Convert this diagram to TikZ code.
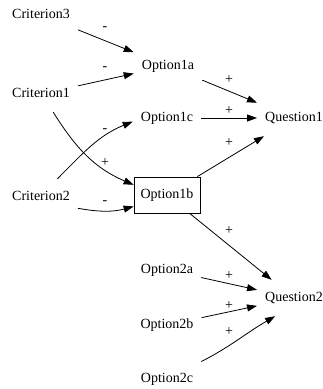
\documentclass[tikz,border=0pt]{standalone}
\usepackage{fontspec}
\setmainfont{Liberation Serif}
\usepackage{tikz}
\usetikzlibrary{arrows.meta}

\begin{document}
\begin{tikzpicture}[x=1pt, y=1pt,
  font=\fontsize{14pt}{16pt}\selectfont,
  item/.style={inner xsep=8pt, inner ysep=0pt, minimum height=36pt, text height=10pt, text depth=3pt},
  boxed/.style={item, draw, line width=0.8pt, inner xsep=6.5pt},
  sign/.style={inner sep=0pt},
  link/.style={line width=0.8pt, -{Triangle[length=10pt,width=7pt]}}]
\useasboundingbox (0,0) rectangle (323,-389);
% criteria
\node [item] (Criterion3) at (41,-15) {Criterion3};
\node [item] (Criterion1) at (41,-94) {Criterion1};
\node [item] (Criterion2) at (41,-197) {Criterion2};
% options
\node [item] (Option1a) at (168,-66) {Option1a};
\node [item] (Option1c) at (167,-118) {Option1c};
\node [boxed] (Option1b) at (167,-195) {Option1b};
\node [item] (Option2a) at (167,-270) {Option2a};
\node [item] (Option2b) at (167,-325) {Option2b};
\node [item] (Option2c) at (167,-379) {Option2c};
% questions
\node [item] (Question1) at (294,-118) {Question1};
\node [item] (Question2) at (294,-298) {Question2};
% edges
\draw [link] (Criterion3) -- (Option1a);
\draw [link] (Criterion1) -- (Option1a);
\draw [link] (Criterion1.-56) to [out=-58, in=157] (Option1b.163);
\draw [link] (Criterion2.48) to [out=45, in=202] (Option1c.186);
\draw [link] (Criterion2.-17) to [out=-10, in=195] (Option1b.199);
\draw [link] (Option1a) -- (Question1);
\draw [link] (Option1c) -- (Question1);
\draw [link] (Option1b) -- (Question1);
\draw [link] (Option1b) -- (Question2);
\draw [link] (Option2a) -- (Question2);
\draw [link] (Option2b) -- (Question2);
\draw [link] (Option2c.27) to [out=27, in=210] (Question2.224);
% signs
\node [sign] (s1) at (105,-29) {-};
\node [sign] (s2) at (105,-69) {-};
\node [sign] (s3) at (105,-131) {-};
\node [sign] (s4) at (105,-163) {+};
\node [sign] (s5) at (105,-203) {-};
\node [sign] (s6) at (229,-80) {+};
\node [sign] (s7) at (229,-111) {+};
\node [sign] (s8) at (229,-143) {+};
\node [sign] (s9) at (229,-231) {+};
\node [sign] (s10) at (229,-276) {+};
\node [sign] (s11) at (229,-306) {+};
\node [sign] (s12) at (229,-332) {+};
\end{tikzpicture}
\end{document}
